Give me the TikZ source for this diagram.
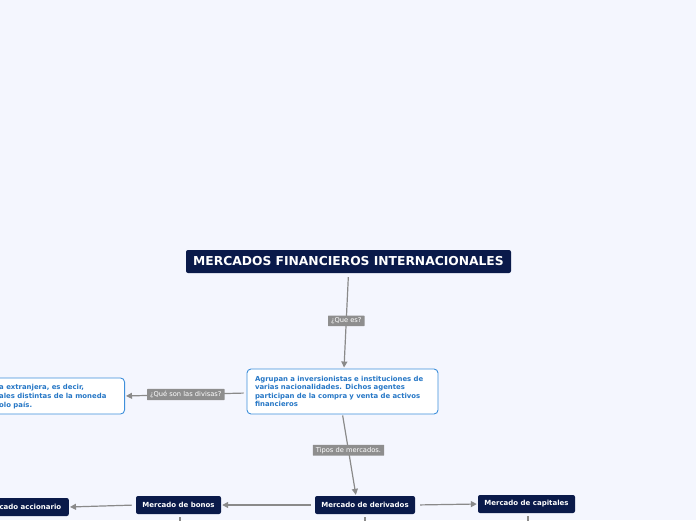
\documentclass[tikz,border=0pt]{standalone}
\usepackage{fontspec}
\setmainfont{DejaVu Sans}
\usetikzlibrary{arrows.meta}
\definecolor{navy}{HTML}{0A1A4A}
\definecolor{boxblue}{HTML}{3E8FDB}
\definecolor{txtblue}{HTML}{2677C6}
\definecolor{lblgray}{HTML}{8E8E8E}
\definecolor{conngray}{HTML}{8A8A8A}
\definecolor{bgpaper}{HTML}{F4F6FE}

\tikzset{
    topic/.style={fill=navy, rounded corners=2pt, text=white, inner sep=0pt,
        minimum height=18pt, font=\bfseries\fontsize{7}{8}\selectfont},
    bluebox/.style={draw=boxblue, fill=white, line width=0.9pt, rounded corners=4pt},
    bluetext/.style={text=txtblue, align=left, inner sep=0pt,
        font=\bfseries\fontsize{6.9}{8.6}\selectfont},
    lbl/.style={fill=lblgray, text=white, inner xsep=3pt, inner ysep=2.2pt,
        rounded corners=0.5pt, font=\fontsize{6.7}{7.5}\selectfont},
    conn/.style={draw=conngray, line width=1.2pt, -{Triangle[length=6pt,width=6pt]},
        shorten <=4pt, shorten >=1pt},
    stub/.style={draw=conngray, line width=1.2pt, shorten <=3pt},
}

\begin{document}
\begin{tikzpicture}[x=1pt, y=-1pt]
    \fill[bgpaper] (0,0) rectangle (696,520);
    \clip (0,0) rectangle (696,520);

    % central topic
    \node[topic, minimum width=325pt, minimum height=23pt,
        font=\bfseries\fontsize{12.3}{14}\selectfont] (title) at (348.5, 261.5)
        {MERCADOS FINANCIEROS INTERNACIONALES};

    % definition boxes
    \node[bluebox, bluetext, inner xsep=8pt, inner ysep=0pt, text width=175pt,
        minimum height=45pt] (agrupan) at (342.5, 391.5)
        {Agrupan a inversionistas e instituciones de\\
         varias nacionalidades. Dichos agentes\\
         participan de la compra y venta de activos\\
         financieros};

    \node[bluebox, minimum width=170pt, minimum height=36pt, anchor=east] (divisas) at (125, 396) {};
    \node[bluetext, anchor=west] (divtxt) at (-1, 396.5)
        {a extranjera, es decir,\\
         ales distintas de la moneda\\
         olo pa\'is.};

    % types of markets
    \node[topic, minimum width=100pt] (derivados) at (365, 505) {Mercado de derivados};
    \node[topic, minimum width=85pt] (bonos) at (178.5, 505) {Mercado de bonos};
    \node[topic, minimum width=92pt, anchor=east] (accionario) at (69, 507) {Mercado accionario};
    \node[topic, minimum width=97pt] (capitales) at (526.5, 504) {Mercado de capitales};

    % connectors
    \draw[conn] (title.south) -- node[lbl, pos=0.5] (quees) {¿Que es?} ([xshift=1.5pt]agrupan.north);
    \draw[conn, shorten <=3pt] ([yshift=-1.5pt]agrupan.west) -- node[lbl] (quedivisas) {¿Qué son las divisas?} (divisas.east);
    \draw[conn, shorten <=1pt] (agrupan.south) -- node[lbl, pos=0.44] (tipos) {Tipos de mercados.} ([xshift=-9pt]derivados.north);
    \draw[conn] (derivados.west) -- (bonos.east);
    \draw[conn] (bonos.west) -- (accionario.east);
    \draw[conn, shorten <=5pt] (derivados.east) -- (capitales.west);

    % branches leaving the page
    \coordinate (bonosEnd) at (180, 530);
    \coordinate (derivEnd) at (365, 530);
    \coordinate (capEnd) at (528, 530);
    \draw[stub] ([xshift=1.5pt]bonos.south) -- (bonosEnd);
    \draw[stub] (derivados.south) -- (derivEnd);
    \draw[stub] ([xshift=1.5pt]capitales.south) -- (capEnd);
\end{tikzpicture}
\end{document}
